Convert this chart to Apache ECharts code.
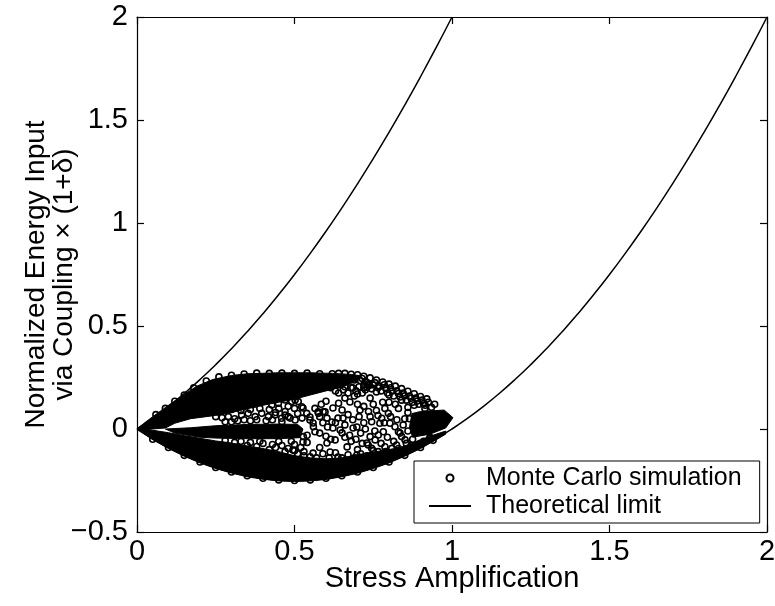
<!DOCTYPE html>
<html><head><meta charset="utf-8">
<script src="https://cdn.jsdelivr.net/npm/echarts@6/dist/echarts.min.js"></script>
<style>html,body{margin:0;padding:0;background:#fff}#c{width:775px;height:606px}</style>
</head><body><div id="c"></div>
<script>
// ---- data ----
const xTicks = [0, 0.5, 1, 1.5, 2];
const yTicks = [-0.5, 0, 0.5, 1, 1.5, 2];

// Theoretical limit curves
const upperLimitX = [0,0.05,0.1,0.15,0.2,0.25,0.3,0.35,0.4,0.45,0.5,0.55,0.6,0.65,0.7,0.75,0.8,0.85,0.9,0.95,1.0];
const upperLimitY = [0,0.0525,0.11,0.1725,0.24,0.3125,0.39,0.4725,0.56,0.6525,0.75,0.8525,0.96,1.0725,1.19,1.3125,1.44,1.5725,1.71,1.8525,2.0];
const lowerLimitX = [0,0.05,0.1,0.15,0.2,0.25,0.3,0.35,0.4,0.45,0.5,0.55,0.6,0.65,0.7,0.75,0.8,0.85,0.9,0.95,1.0,1.05,1.1,1.15,1.2,1.25,1.3,1.35,1.4,1.45,1.5,1.55,1.6,1.65,1.7,1.75,1.8,1.85,1.9,1.95,2.0];
const lowerLimitY = [0,-0.0475,-0.09,-0.1275,-0.16,-0.1875,-0.21,-0.2275,-0.24,-0.2475,-0.25,-0.2475,-0.24,-0.2275,-0.21,-0.1875,-0.16,-0.1275,-0.09,-0.0475,0,0.0525,0.11,0.1725,0.24,0.3125,0.39,0.4725,0.56,0.6525,0.75,0.8525,0.96,1.0725,1.19,1.3125,1.44,1.5725,1.71,1.8525,2.0];

// Densely packed Monte Carlo regions (outlines of solid black areas)
const upperBand = [[0,0],[0.02,0.025],[0.05,0.06],[0.1,0.115],[0.15,0.168],[0.19,0.208],[0.24,0.24],[0.3,0.26],[0.35,0.268],[0.45,0.273],[0.55,0.273],[0.62,0.27],[0.68,0.265],[0.71,0.258],[0.7,0.235],[0.67,0.215],[0.64,0.2],[0.6,0.185],[0.55,0.165],[0.5,0.145],[0.45,0.13],[0.4,0.115],[0.35,0.098],[0.3,0.08],[0.25,0.066],[0.17,0.05],[0.12,0.028],[0.09,0.005],[0.05,0.0],[0.02,-0.005]];
const lowerBand = [[0,0],[0.05,-0.052],[0.1,-0.095],[0.15,-0.132],[0.2,-0.165],[0.25,-0.192],[0.3,-0.214],[0.35,-0.232],[0.4,-0.244],[0.45,-0.252],[0.5,-0.255],[0.55,-0.252],[0.6,-0.245],[0.65,-0.232],[0.7,-0.215],[0.75,-0.192],[0.8,-0.165],[0.85,-0.132],[0.9,-0.095],[0.95,-0.052],[0.98,-0.025],[0.98,-0.01],[0.93,-0.035],[0.88,-0.065],[0.84,-0.088],[0.8,-0.1],[0.75,-0.112],[0.7,-0.125],[0.65,-0.14],[0.6,-0.145],[0.55,-0.14],[0.5,-0.13],[0.45,-0.11],[0.4,-0.095],[0.35,-0.082],[0.3,-0.068],[0.25,-0.058],[0.2,-0.045],[0.15,-0.032],[0.1,-0.018],[0.05,-0.006]];
const tongue = [[0.09,0.0],[0.17,0.006],[0.25,0.016],[0.35,0.022],[0.45,0.024],[0.51,0.022],[0.527,0.0],[0.517,-0.042],[0.45,-0.047],[0.35,-0.047],[0.25,-0.044],[0.2,-0.04],[0.12,-0.02]];
const blob = [[0.873,0.075],[0.9,0.085],[0.975,0.092],[1.003,0.055],[0.98,0.005],[0.93,-0.025],[0.875,-0.04],[0.865,0.01]];

// Individually visible Monte Carlo samples
const mcX = [0.502,0.527,0.575,0.597,0.622,0.651,0.676,0.708,0.549,0.559,0.603,0.619,0.638,0.654,0.622,0.651,0.686,0.698,0.524,0.486,0.47,0.527,0.603,0.629,0.73,0.613,0.559,0.495,0.638,0.698,0.667,
0.585,0.6,0.64,0.66,0.69,0.7,0.72,0.58,0.6,0.66,0.68,0.71,0.72,0.74,0.67,0.58,0.54,0.7,
0.914,0.787,0.798,0.777,0.771,0.803,0.819,0.83,0.84,0.851,0.782,0.766,0.756,0.74,0.734,0.745,0.766,0.787,0.809,0.824,
0.8,0.83,0.86,0.85,0.76,0.75,0.88,0.86,
0.62,0.64,0.66,0.68,0.7,0.72,0.74,0.76,0.78,0.8,0.82,0.84,0.86,0.88,0.9,0.92,
0.63,0.65,0.67,0.69,0.71,0.73,0.75,0.77,0.79,0.81,0.83,0.85,0.87,0.89,0.91,
0.62,0.66,0.68,0.72,0.76,0.8,0.84,0.88,
0.64,0.7,0.74,0.78,0.82,0.86,
0.491,0.512,0.523,0.539,0.549,0.56,0.565,0.528,0.576,0.591,
0.332,0.353,0.375,0.396,0.417,0.438,0.459,0.48,0.502,0.449,0.47,0.428,
0.3,0.32,0.34,0.36,0.38,0.41,0.43,0.46,
0.33,0.36,0.4,0.43,0.46,0.5,0.52,0.48,0.44,
0.25,0.27,0.29,0.31,0.28,
0.06,0.09,0.12,0.15,0.18,0.22,0.26,0.3,0.34,0.38,0.42,0.46,0.5,0.54,0.58,
0.05,0.1,0.15,0.2,0.25,0.3,0.35,0.4,0.45,0.5,0.55,0.6,0.65,0.7,0.75,0.8,0.85,0.9,0.94,
0.605,0.615,0.63,0.645,0.655,0.67,0.685,0.695,0.705,0.715,0.725,0.735,0.745,0.755,0.765,0.775,0.785,0.795,0.805,0.815,0.825,0.835,0.845,0.855,0.865,0.875,0.885,0.895,0.905,0.915,0.925,0.935,0.945,
0.565,0.58,0.59,0.605,0.615,0.63,0.645,0.66,0.675,0.685,0.695,0.705,0.715,0.725,0.735,0.745,0.755,0.765,0.775,0.785,0.795,0.805,0.815,0.825,0.835,0.845,0.855,0.865,0.875,
0.51,0.53,0.55,0.57,0.59,0.61,0.63,0.65,0.67,0.69,0.71,0.73,0.75,0.77,0.79,0.81,0.83,0.85,0.87,0.89,0.91,0.93,
0.26,0.3,0.34,0.37,0.4,0.33,0.36,0.39,0.42,0.45,0.48,0.5,0.51,0.47,0.44,
0.28,0.31,0.35,0.38,0.42,0.47,0.5,0.53,0.39,0.45,0.49,0.54,
0.63,0.67,0.71,0.75,0.79,0.83,0.87,0.9,0.93,0.66,0.7,0.74,0.78,0.82,
0.715,0.725,0.735,0.72,0.73];
const mcY = [0.141,0.102,0.083,0.083,0.102,0.092,0.131,0.092,0.058,0.029,0.053,0.034,0.053,0.053,0.005,-0.019,0.005,0.01,0.053,0.053,0.068,-0.063,-0.068,-0.053,-0.068,-0.112,-0.117,-0.102,-0.136,-0.126,-0.087,
0.12,0.135,0.125,0.15,0.16,0.12,0.11,-0.02,-0.035,-0.04,-0.06,-0.02,0.03,0.06,0.07,-0.09,-0.03,-0.1,
0.1,0.1,0.076,0.052,0.028,0.028,0.011,-0.013,-0.037,-0.053,-0.013,-0.029,-0.053,-0.037,-0.078,-0.094,-0.11,-0.086,-0.094,-0.078,
0.13,0.1,0.08,0.05,0.09,0.12,0.02,-0.01,
0.268,0.27,0.27,0.266,0.263,0.256,0.248,0.238,0.228,0.218,0.208,0.196,0.183,0.171,0.158,0.146,
0.242,0.244,0.24,0.238,0.234,0.226,0.214,0.206,0.196,0.184,0.172,0.161,0.149,0.136,0.123,
0.21,0.205,0.2,0.2,0.18,0.165,0.14,0.115,
0.175,0.17,0.15,0.13,0.12,0.105,
0.133,0.133,0.108,0.076,0.044,0.011,-0.013,-0.037,0.076,0.084,
0.068,0.076,0.06,0.076,0.06,0.068,0.052,0.06,0.044,0.125,0.141,0.117,
0.035,0.04,0.045,0.04,0.045,0.04,0.045,0.035,
-0.06,-0.065,-0.07,-0.075,-0.08,-0.075,-0.09,-0.095,-0.09,
0.06,0.055,0.06,0.05,0.035,
0.07,0.1,0.135,0.165,0.2,0.233,0.253,0.261,0.267,0.271,0.27,0.271,0.27,0.271,0.268,
-0.05,-0.09,-0.128,-0.16,-0.187,-0.209,-0.227,-0.239,-0.247,-0.25,-0.247,-0.239,-0.227,-0.209,-0.187,-0.16,-0.128,-0.09,-0.055,
0.22,0.2,0.185,0.215,0.19,0.175,0.2,0.185,0.205,0.175,0.19,0.21,0.195,0.225,0.2,0.185,0.215,0.175,0.2,0.16,0.185,0.155,0.175,0.14,0.16,0.13,0.15,0.12,0.14,0.115,0.13,0.105,0.12,
0.1,0.06,0.03,0.01,-0.05,0.03,-0.005,0.02,-0.03,0.045,-0.05,0.06,-0.07,0.0,0.085,0.035,-0.01,0.065,-0.07,0.03,-0.04,0.06,-0.06,0.045,-0.02,0.02,-0.07,0.05,-0.05,
-0.12,-0.13,-0.135,-0.14,-0.12,-0.14,-0.115,-0.14,-0.125,-0.14,-0.12,-0.13,-0.105,-0.125,-0.11,-0.115,-0.095,-0.1,-0.08,-0.075,-0.06,-0.045,
0.085,0.095,0.11,0.12,0.135,0.09,0.095,0.1,0.095,0.1,0.11,0.1,0.075,0.085,0.08,
-0.055,-0.065,-0.08,-0.085,-0.1,-0.11,-0.105,-0.11,-0.06,-0.06,-0.06,-0.065,
-0.175,-0.16,-0.155,-0.145,-0.135,-0.11,-0.09,-0.07,-0.04,-0.19,-0.175,-0.16,-0.15,-0.125,
0.245,0.232,0.22,0.215,0.203];

// ---- chart ----
const FONT = '"Liberation Sans", Arial, Helvetica, sans-serif';
const chart = echarts.init(document.getElementById('c'), null, {renderer: 'canvas'});

function polySeries(points) {
  return {
    type: 'custom',
    xAxisIndex: 0, yAxisIndex: 0,
    silent: true,
    z: 2,
    data: points,
    renderItem: function (params, api) {
      if (params.dataIndex !== 0) return null;
      const pts = [];
      for (let i = 0; i < points.length; i++) {
        pts.push(api.coord([api.value(0, i), api.value(1, i)]));
      }
      return {type: 'polygon', shape: {points: pts}, style: {fill: '#000', stroke: '#000', lineWidth: 1}};
    }
  };
}

const axisLineStyle = {color: '#000', width: 1.2};
const fmt = v => String(v).replace('-', '\u2212');
function mkAxis(extra) {
  return Object.assign({
    type: 'value',
    axisLine: {show: true, onZero: false, lineStyle: axisLineStyle},
    axisTick: {show: true, inside: true, length: 7, lineStyle: axisLineStyle},
    splitLine: {show: false}
  }, extra);
}

const option = {
  animation: false,
  backgroundColor: '#fff',
  grid: {left: 137, right: 8, top: 17, bottom: 74, containLabel: false, outerBoundsMode: 'none'},
  xAxis: [
    mkAxis({min: 0, max: 2, interval: 0.5, position: 'bottom',
     axisLabel: {color: '#000', fontSize: 29, fontFamily: FONT, margin: 5, formatter: fmt},
     name: 'Stress Amplification', nameLocation: 'middle', nameGap: 32, nameMoveOverlap: false,
     nameTextStyle: {color: '#000', fontSize: 29, fontFamily: FONT}}),
    mkAxis({min: 0, max: 2, interval: 0.5, position: 'top', axisLabel: {show: false}})
  ],
  yAxis: [
    mkAxis({min: -0.5, max: 2, interval: 0.5, position: 'left',
     axisLabel: {color: '#000', fontSize: 29, fontFamily: FONT, margin: 9, formatter: fmt},
     name: 'Normalized Energy Input\nvia Coupling \u00d7 (1+\u03b4)', nameLocation: 'middle', nameRotate: 90, nameGap: 59, nameMoveOverlap: false,
     nameTextStyle: {color: '#000', fontSize: 28, fontFamily: FONT, lineHeight: 28, align: 'center'}}),
    mkAxis({min: -0.5, max: 2, interval: 0.5, position: 'right', axisLabel: {show: false}})
  ],
  legend: {
    data: ['Monte Carlo simulation', {name: 'Theoretical limit', itemStyle: {color: 'rgba(0,0,0,0)', borderColor: 'rgba(0,0,0,0)', borderWidth: 0}}],
    orient: 'vertical', left: 414, top: 461,
    padding: [3, 18, 3, 14], itemGap: 0, itemWidth: 42, itemHeight: 7,
    backgroundColor: '#fff', borderColor: '#000', borderWidth: 1, borderRadius: 0,
    textStyle: {color: '#000', fontSize: 25, fontFamily: FONT, lineHeight: 28, padding: [0, 0, 0, 10]}
  },
  series: [
    polySeries(upperBand),
    polySeries(lowerBand),
    polySeries(tongue),
    polySeries(blob),
    {name: 'Monte Carlo simulation', type: 'scatter', z: 3,
     symbol: 'circle', symbolSize: 6,
     itemStyle: {color: 'rgba(0,0,0,0)', borderColor: '#000', borderWidth: 1.6, opacity: 1},
     data: mcX.map((x, i) => [x, mcY[i]])},
    {name: 'Theoretical limit', type: 'line', z: 4, smooth: true, symbol: 'none',
     lineStyle: {color: '#000', width: 1.5}, itemStyle: {color: '#000'},
     data: upperLimitX.map((x, i) => [x, upperLimitY[i]])},
    {name: 'Theoretical limit', type: 'line', z: 4, smooth: true, symbol: 'none',
     lineStyle: {color: '#000', width: 1.5}, itemStyle: {color: '#000'},
     data: lowerLimitX.map((x, i) => [x, lowerLimitY[i]])}
  ]
};
chart.setOption(option);
</script>
</body></html>
